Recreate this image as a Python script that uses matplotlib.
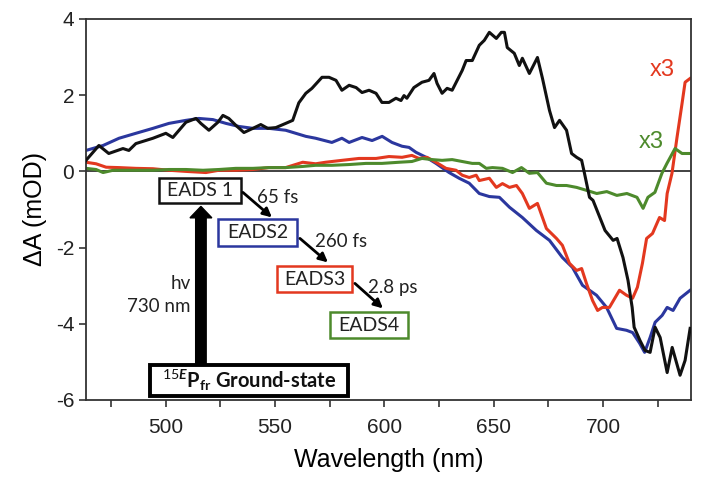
import numpy as np
import matplotlib
matplotlib.use("Agg")
import matplotlib.pyplot as plt
from matplotlib.patches import Rectangle
from matplotlib.ticker import MultipleLocator

plt.rcParams["font.family"] = ["Liberation Sans", "DejaVu Sans"]
plt.rcParams["axes.unicode_minus"] = False
plt.rcParams["mathtext.fontset"] = "custom"
plt.rcParams["mathtext.rm"] = "Lato"
plt.rcParams["mathtext.bf"] = "Lato:bold"
plt.rcParams["mathtext.it"] = "Lato:bold:italic"

# EADS1 (schwarz)
wl_1 = [463.6, 469.5, 474.0, 480.5, 483.2, 486.4, 494.2, 500.1, 503.3, 509.3, 513.9, 516.1,
        519.8, 523.9, 526.2, 528.9, 532.1, 535.8, 539.9, 543.5, 546.7, 550.4, 554.9, 558.1,
        560.9, 564.1, 566.9, 571.5, 574.7, 577.9, 580.6, 583.9, 587.1, 589.8, 593.0, 596.2,
        598.9, 602.1, 605.3, 607.6, 609.0, 610.3, 613.5, 617.2, 620.4, 622.7, 624.1, 626.4,
        628.7, 631.0, 633.3, 635.6, 637.4, 640.2, 643.4, 645.7, 648.0, 651.2, 653.5, 654.9,
        656.2, 659.4, 661.7, 663.1, 666.3, 668.6, 670.0, 672.3, 675.5, 677.8, 680.1, 683.3,
        685.6, 687.9, 690.2, 691.5, 693.8, 695.4, 700.9, 704.6, 706.4, 709.1, 711.4, 713.3,
        714.2, 716.9, 719.2, 721.5, 723.8, 726.1, 729.3, 731.6, 735.2, 737.5, 739.8]
eads_1 = [0.29, 0.68, 0.47, 0.60, 0.55, 0.73, 0.87, 1.00, 0.89, 1.29, 1.39, 1.26,
          1.08, 1.29, 1.47, 1.39, 1.21, 1.02, 1.13, 1.23, 1.13, 1.15, 1.26, 1.34,
          1.80, 2.05, 2.18, 2.47, 2.47, 2.39, 2.13, 2.26, 2.20, 2.07, 2.13, 2.05,
          1.81, 1.81, 1.92, 1.86, 1.99, 1.92, 2.20, 2.34, 2.39, 2.57, 2.31, 2.05,
          2.18, 2.13, 2.39, 2.65, 2.91, 2.91, 3.31, 3.44, 3.65, 3.49, 3.65, 3.65,
          3.25, 3.10, 2.78, 2.97, 2.57, 2.83, 2.99, 2.44, 1.60, 1.15, 1.34, 1.08,
          0.47, 0.37, 0.29, -0.05, -0.68, -0.76, -1.55, -1.81, -1.76, -2.26, -2.86, -3.57,
          -4.09, -4.44, -4.70, -4.75, -4.09, -4.36, -5.28, -4.62, -5.35, -4.96, -4.12]

# EADS2 (blau)
wl_2 = [463.6, 471.4, 478.7, 486.4, 494.2, 501.5, 509.3, 515.2, 521.6, 527.6, 533.5, 539.9,
        547.2, 554.9, 559.5, 564.1, 568.6, 576.0, 580.6, 583.9, 589.8, 594.4, 599.0, 603.5,
        608.1, 611.3, 614.5, 619.1, 623.6, 629.6, 634.2, 638.8, 643.4, 648.0, 652.6, 657.2,
        663.1, 669.5, 675.5, 681.4, 686.0, 690.6, 697.0, 701.6, 706.2, 710.7, 713.5, 716.7,
        719.0, 721.5, 723.8, 727.0, 729.3, 732.0, 735.2, 739.8]
eads_2 = [0.55, 0.68, 0.87, 1.00, 1.13, 1.26, 1.34, 1.39, 1.36, 1.26, 1.18, 1.13,
          1.13, 1.08, 1.00, 0.92, 0.87, 0.76, 0.87, 0.76, 0.89, 0.81, 0.92, 0.76,
          0.66, 0.63, 0.50, 0.37, 0.21, -0.03, -0.18, -0.31, -0.58, -0.66, -0.68, -0.94,
          -1.21, -1.55, -1.81, -2.26, -2.52, -2.99, -3.25, -3.57, -4.12, -4.17, -4.23, -4.51,
          -4.75, -4.36, -3.96, -3.78, -3.57, -3.65, -3.33, -3.12]

# EADS3 (rot, x3)
wl_3 = [463.6, 468.2, 472.8, 478.7, 486.4, 494.2, 501.5, 509.3, 518.4, 524.4, 532.1, 539.9,
        547.2, 554.9, 562.7, 568.6, 573.1, 580.6, 588.4, 596.2, 602.1, 608.1, 612.6, 615.8,
        619.5, 623.6, 628.2, 632.8, 635.6, 638.8, 642.0, 643.4, 648.0, 651.2, 654.0, 657.2,
        660.4, 663.1, 666.3, 670.0, 674.1, 678.7, 681.4, 684.6, 687.9, 690.2, 692.4, 695.2,
        697.5, 699.7, 702.9, 707.5, 710.7, 713.5, 715.7, 718.0, 719.9, 722.6, 725.8, 728.1,
        729.3, 731.5, 733.8, 736.1, 737.5, 739.8]
eads_3 = [0.24, 0.20, 0.11, 0.10, 0.08, 0.07, 0.03, 0.00, -0.03, 0.03, 0.03, 0.05,
          0.10, 0.10, 0.24, 0.20, 0.24, 0.29, 0.34, 0.34, 0.39, 0.37, 0.42, 0.34,
          0.37, 0.24, 0.08, 0.03, -0.10, -0.16, -0.10, -0.24, -0.18, -0.42, -0.32, -0.42,
          -0.37, -0.58, -0.97, -0.84, -1.50, -1.76, -1.94, -2.41, -2.60, -2.55, -2.94, -3.39,
          -3.65, -3.57, -3.57, -3.12, -3.25, -3.33, -3.04, -2.41, -1.76, -1.63, -1.21, -1.29,
          -0.58, -0.05, 0.89, 1.78, 2.34, 2.44]

# EADS4 (gruen, x3)
wl_4 = [463.6, 468.2, 471.4, 476.0, 486.4, 494.2, 501.5, 509.3, 517.1, 524.4, 532.1, 539.9,
        547.2, 554.9, 562.7, 568.6, 576.0, 583.9, 591.6, 598.9, 606.7, 612.6, 617.2, 621.8,
        626.4, 631.0, 635.6, 640.2, 643.4, 646.6, 649.4, 654.0, 658.6, 662.7, 666.3, 670.0,
        674.1, 678.7, 683.3, 687.9, 692.6, 697.1, 701.7, 706.3, 710.9, 715.5, 718.3, 720.5,
        723.7, 726.9, 729.2, 732.9, 736.1, 739.8]
eads_4 = [0.08, 0.05, -0.03, 0.03, 0.03, 0.03, 0.05, 0.05, 0.03, 0.05, 0.08, 0.08,
          0.10, 0.10, 0.13, 0.16, 0.16, 0.18, 0.21, 0.21, 0.24, 0.26, 0.34, 0.31,
          0.29, 0.31, 0.26, 0.21, 0.21, 0.08, 0.10, 0.08, -0.03, 0.10, -0.05, -0.03,
          -0.31, -0.37, -0.37, -0.42, -0.50, -0.58, -0.53, -0.63, -0.58, -0.68, -0.97, -0.68,
          -0.55, -0.05, 0.21, 0.60, 0.47, 0.47]

c_black = "#111111"
c_blue = "#2b379e"
c_red = "#e3381f"
c_green = "#4d8a2c"

fig = plt.figure(figsize=(7.04, 4.88), dpi=100)
ax = fig.add_axes([86 / 704, 88 / 488, 605 / 704, 381 / 488])

ax.axhline(0, color="#333333", lw=1.3, zorder=1)
ax.plot(wl_1, eads_1, color=c_black, lw=2.2, zorder=3)
ax.plot(wl_2, eads_2, color=c_blue, lw=2.2, zorder=2)
ax.plot(wl_3, eads_3, color=c_red, lw=2.2, zorder=2)
ax.plot(wl_4, eads_4, color=c_green, lw=2.2, zorder=2)

ax.set_xlim(463.6, 740.2)
ax.set_ylim(-6, 4)
ax.xaxis.set_major_locator(MultipleLocator(50))
ax.xaxis.set_minor_locator(MultipleLocator(25))
ax.yaxis.set_major_locator(MultipleLocator(2))
ax.tick_params(which="both", direction="out", length=5, width=1.2, color="#333333",
               labelsize=15, labelcolor="#222222")
ax.tick_params(axis="x", pad=8)
for sp in ax.spines.values():
    sp.set_color("#333333")
    sp.set_linewidth(1.3)

ax.set_xlabel("Wavelength (nm)", fontsize=18, labelpad=8)
ax.set_ylabel("ΔA (mOD)", fontsize=18, labelpad=6)


# Referenz-Pixel -> Datenkoordinaten (nur fuer Beschriftungen)
def to_data(px, py):
    return 500 + (px - 165.7) / 2.187, (171 - py) / 38.1


ann_font = ["Lato", "DejaVu Sans"]

boxes = [("EADS 1", 159, 241, 178, 203, c_black),
         ("EADS2", 218, 297, 219, 246, c_blue),
         ("EADS3", 277, 352, 266, 292, c_red),
         ("EADS4", 330, 408, 312, 338, c_green)]
for label, l, r, t, b, col in boxes:
    x0, y0 = to_data(l, b)
    x1, y1 = to_data(r, t)
    ax.add_patch(Rectangle((x0, y0), x1 - x0, y1 - y0, fc="white", ec=col, lw=1.8, zorder=5))
    ax.text((x0 + x1) / 2, (y0 + y1) / 2, label, ha="center", va="center", fontsize=14,
            family=ann_font, color="#222222", zorder=6)

# Grundzustand
x0, y0 = to_data(150, 396)
x1, y1 = to_data(348, 365)
ax.add_patch(Rectangle((x0, y0), x1 - x0, y1 - y0, fc="white", ec="black", lw=2.8, zorder=5))
ax.text((x0 + x1) / 2, (y0 + y1) / 2 + 0.02,
        r"$^{\mathit{15E}}\mathbf{P}_{\mathbf{fr}}$ Ground-state",
        ha="center", va="center", fontsize=14.5, family=ann_font, fontweight="bold",
        color="#111111", zorder=6)

# Anregungspfeil
ax0, ay0 = to_data(201, 365)
ax1, ay1 = to_data(201, 206)
ax.arrow(ax0, ay0, 0, ay1 - ay0, width=4.8, head_width=10, head_length=0.3,
         length_includes_head=True, fc="black", ec="black", zorder=4)
hx, hy = to_data(191, 283)
ax.text(hx, hy, "hv", ha="right", va="center", fontsize=13.5, family=ann_font, color="#222222")
hx, hy = to_data(191, 306)
ax.text(hx, hy, "730 nm", ha="right", va="center", fontsize=13.5, family=ann_font, color="#222222")

# Zerfallspfeile mit Zeitkonstanten
steps = [((243, 192), (272, 217), (257, 197), "65 fs"),
         ((300, 238), (328, 262), (315, 241), "260 fs"),
         ((355, 283), (383, 308), (368, 287), "2.8 ps")]
for start, end, lab, txt in steps:
    ax.annotate("", xy=to_data(*end), xytext=to_data(*start),
                arrowprops=dict(arrowstyle="-|>", color="black", lw=2, mutation_scale=13,
                                shrinkA=0, shrinkB=0), zorder=6)
    ax.text(*to_data(*lab), txt, ha="left", va="center", fontsize=13.5, family=ann_font,
            color="#222222", zorder=6)

ax.text(*to_data(662.5, 70), "x3", color=c_red, fontsize=17, ha="center", va="center")
ax.text(*to_data(651, 142), "x3", color=c_green, fontsize=17, ha="center", va="center")

fig.savefig("out.png", dpi=100)
